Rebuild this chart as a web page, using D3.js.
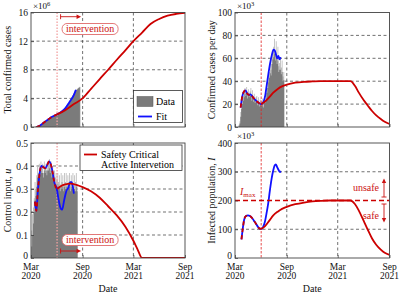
<!DOCTYPE html>
<html>
<head>
<meta charset="utf-8">
<script src="https://cdn.jsdelivr.net/npm/d3@7"></script>
<style>
body { margin: 0; background: #fff; }
svg { font-family: "Liberation Serif", "Times New Roman", serif; }
</style>
</head>
<body>
<div id="chart"></div>
<script>
var width = 399, height = 293;

var interventionDate = "2020-06-02";
var xTickDates = ["2020-03-01", "2020-09-01", "2021-03-01", "2021-09-01"];
var xGridDates = ["2020-09-01", "2021-03-01"];

// total confirmed cases (x10^6)
var cumData = [["2020-03-15",0],["2020-03-22",0.03],["2020-03-29",0.14],["2020-04-05",0.34],["2020-04-12",0.56],["2020-04-19",0.76],["2020-04-26",0.96],["2020-05-03",1.16],["2020-05-10",1.33],["2020-05-17",1.5],["2020-05-24",1.64],["2020-05-31",1.79],["2020-06-07",1.94],["2020-06-14",2.09],["2020-06-21",2.28],["2020-06-28",2.55],["2020-07-05",2.9],["2020-07-12",3.3],["2020-07-19",3.78],["2020-07-26",4.25],["2020-08-02",4.7],["2020-08-09",5.1],["2020-08-16",5.4],["2020-08-23",5.6]];
var cumFit = [["2020-03-20",0],["2020-04-01",0.18],["2020-04-15",0.6],["2020-05-01",1.05],["2020-05-15",1.42],["2020-06-01",1.75],["2020-06-15",2.08],["2020-07-01",2.6],["2020-07-15",3.4],["2020-08-01",4.5],["2020-08-08",5.2]];
var cumModel = [["2020-06-02",1.77],["2020-07-01",2.35],["2020-08-01",3.2],["2020-09-01",4.0],["2020-10-01",5.33],["2020-11-01",6.7],["2020-12-01",8.0],["2021-01-01",9.4],["2021-02-01",10.75],["2021-03-01",12.0],["2021-04-01",13.2],["2021-05-01",14.4],["2021-06-01",15.1],["2021-07-01",15.55],["2021-08-01",15.8],["2021-09-01",15.95]];

// confirmed cases per day (x10^3), one value every 3 days
var dailyStart = "2020-03-14";
var dailyHi = [2,5,13,20,24,27,30,34,31,35,28,33,29,31,34,26,32,25,29,24,26,27,22,26,20,24,23,21,25,19,27,23,30,34,39,46,48,56,50,63,66,70,77,65,75,60,70,53,56,60,52,58,44,48,45];
var dailyLo = [1,3,9,16,20,23,26,29,27,29,25,27,26,27,27,23,26,22,24,21,22,22,19,21,18,19,19,18,20,17,22,21,25,30,34,39,43,47,45,55,59,61,64,58,62,55,58,48,50,50,46,48,40,41,38];
var dailyFit = [["2020-03-21",17],["2020-03-27",27],["2020-04-02",31],["2020-04-07",32],["2020-04-13",29.5],["2020-04-19",28],["2020-04-25",28.5],["2020-05-01",27],["2020-05-07",25],["2020-05-13",23.5],["2020-05-19",22],["2020-05-25",21],["2020-06-01",20],["2020-06-06",20.5],["2020-06-11",22.5],["2020-06-16",27],["2020-06-22",37],["2020-06-28",47],["2020-07-04",56],["2020-07-10",63],["2020-07-16",67.5],["2020-07-20",67],["2020-07-25",63],["2020-07-29",60],["2020-08-02",62],["2020-08-06",59],["2020-08-10",61]];
var dailyModel = [["2020-06-02",20],["2020-06-15",22],["2020-07-01",26],["2020-07-15",30],["2020-08-01",33.5],["2020-08-15",35.5],["2020-09-01",37],["2020-10-01",38.7],["2020-11-01",39.5],["2020-12-01",39.8],["2021-01-01",40],["2021-04-15",40],["2021-05-01",36],["2021-05-15",30],["2021-06-01",23.5],["2021-06-15",19],["2021-07-01",14],["2021-07-15",10.4],["2021-08-01",7],["2021-08-15",4.6],["2021-09-01",2.6]];

// control input u, one value every 3 days
var controlStart = "2020-03-02";
var controlHi = [0.12,0.19,0.22,0.26,0.33,0.30,0.36,0.40,0.37,0.41,0.38,0.42,0.39,0.41,0.37,0.42,0.39,0.41,0.38,0.42,0.40,0.43,0.40,0.42,0.38,0.40,0.36,0.38,0.35,0.37,0.34,0.37,0.33,0.36,0.32,0.37,0.33,0.36,0.32,0.37,0.33,0.37,0.32,0.36,0.33,0.37,0.32,0.36,0.33,0.37,0.32,0.36,0.33,0.37,0.32,0.35];
var controlLo = [0.05,0.10,0.15,0.20,0.25,0.27,0.31,0.35,0.35,0.37,0.36,0.38,0.37,0.37,0.35,0.38,0.37,0.38,0.36,0.38,0.38,0.39,0.37,0.38,0.35,0.36,0.33,0.34,0.31,0.32,0.31,0.32,0.30,0.31,0.29,0.31,0.30,0.31,0.29,0.31,0.30,0.31,0.29,0.31,0.30,0.31,0.29,0.31,0.30,0.31,0.29,0.30,0.29,0.31,0.29,0.30];
var controlFit = [["2020-03-15",0.245],["2020-03-20",0.205],["2020-03-26",0.30],["2020-04-01",0.37],["2020-04-07",0.40],["2020-04-14",0.395],["2020-04-21",0.39],["2020-04-28",0.405],["2020-05-05",0.42],["2020-05-10",0.41],["2020-05-16",0.38],["2020-05-23",0.33],["2020-06-01",0.30],["2020-06-08",0.25],["2020-06-15",0.215],["2020-06-20",0.21],["2020-06-27",0.25],["2020-07-05",0.29],["2020-07-12",0.305],["2020-07-19",0.33],["2020-07-24",0.33],["2020-07-28",0.31],["2020-08-01",0.28]];
var controlModel = [["2020-06-02",0.30],["2020-06-15",0.312],["2020-07-01",0.32],["2020-07-20",0.323],["2020-08-10",0.318],["2020-09-01",0.308],["2020-10-01",0.29],["2020-11-01",0.262],["2020-12-01",0.225],["2021-01-01",0.185],["2021-02-01",0.135],["2021-03-01",0.075],["2021-03-15",0.04],["2021-04-01",0],["2021-09-01",0]];

// infected population I (x10^3)
var infFit = [["2020-03-24",65],["2020-03-29",105],["2020-04-03",135],["2020-04-09",146],["2020-04-16",148],["2020-04-23",146],["2020-04-30",140],["2020-05-07",130],["2020-05-14",120],["2020-05-21",109],["2020-05-28",102],["2020-06-03",101],["2020-06-09",108],["2020-06-15",125],["2020-06-21",155],["2020-06-27",190],["2020-07-03",235],["2020-07-09",275],["2020-07-15",305],["2020-07-20",322],["2020-07-24",326],["2020-07-28",318],["2020-08-02",308],["2020-08-07",300],["2020-08-12",300]];
var infModel = [["2020-06-02",101],["2020-06-15",110],["2020-07-01",130],["2020-07-15",148],["2020-08-01",162],["2020-08-15",171],["2020-09-01",178],["2020-10-01",187],["2020-11-01",193],["2020-12-01",197],["2021-01-01",199],["2021-02-01",200],["2021-04-15",200],["2021-05-01",188],["2021-05-15",165],["2021-06-01",130],["2021-06-15",100],["2021-07-01",68],["2021-07-15",47],["2021-08-01",29],["2021-08-15",18],["2021-09-01",11]];
var infMax = 200;

var RED = "#cc0000", BLUE = "#1010ff", DARK = "#7b7b7b", LIGHT = "#bcbcbc";
var parse = d3.timeParse("%Y-%m-%d");
var xStart = parse("2020-03-01"), xEnd = parse("2021-09-01");
var tInt = parse(interventionDate);

var svg = d3.select("#chart").append("svg")
  .attr("width", width)
  .attr("height", height);

function rows(arr) {
  return arr.map(function(d) { return {date: parse(d[0]), value: d[1]}; });
}
function stepRows(startStr, hi, lo) {
  var s = parse(startStr);
  return hi.map(function(v, i) {
    return {date: d3.timeDay.offset(s, i * 3), hi: v, lo: lo[i]};
  });
}

function makePanel(id, box, yMax, yTicks, yFmt) {
  var x = d3.scaleTime().domain([xStart, xEnd]).range([box.l, box.r]);
  var y = d3.scaleLinear().domain([0, yMax]).range([box.b, box.t]);
  svg.append("clipPath").attr("id", id)
    .append("rect")
    .attr("x", box.l).attr("y", box.t)
    .attr("width", box.r - box.l).attr("height", box.b - box.t);
  var g = svg.append("g");
  var grid = g.append("g");
  var plot = g.append("g").attr("clip-path", "url(#" + id + ")");
  var top = g.append("g");

  yTicks.filter(function(v) { return v > 0 && v < yMax; }).forEach(function(v) {
    grid.append("line")
      .attr("class", "hgrid").attr("data-v", v)
      .attr("x1", box.l).attr("x2", box.r)
      .attr("y1", y(v)).attr("y2", y(v))
      .attr("stroke", "#333").attr("stroke-width", 0.7)
      .attr("stroke-dasharray", "3,2.5");
  });
  xGridDates.forEach(function(d) {
    grid.append("line")
      .attr("x1", x(parse(d))).attr("x2", x(parse(d)))
      .attr("y1", box.t).attr("y2", box.b)
      .attr("stroke", "#333").attr("stroke-width", 0.7)
      .attr("stroke-dasharray", "3,2.5");
  });

  return {x: x, y: y, box: box, grid: grid, plot: plot, top: top, yTicks: yTicks, yFmt: yFmt};
}

function drawFrame(p, showX, yLabel, multiplier) {
  var box = p.box;
  var ay = p.top.append("g")
    .attr("transform", "translate(" + box.l + ",0)")
    .call(d3.axisLeft(p.y).tickValues(p.yTicks).tickSize(-3).tickPadding(3).tickFormat(p.yFmt));
  ay.select(".domain").remove();
  ay.attr("font-family", null).attr("font-size", 9.5);
  ay.selectAll("line").attr("stroke", "#333").attr("stroke-width", 0.7);
  ay.selectAll("text").attr("fill", "#111");
  if (showX) {
    // lift the bottom "0" a little so it clears the month label below it
    ay.selectAll(".tick text").filter(function(d) { return d === 0; }).attr("y", -2.5);
  }

  var ax = p.top.append("g")
    .attr("transform", "translate(0," + box.b + ")")
    .call(d3.axisBottom(p.x).tickValues(xTickDates.map(parse)).tickSize(-3).tickFormat(""));
  ax.select(".domain").remove();
  ax.selectAll("line").attr("stroke", "#333").attr("stroke-width", 0.7);

  p.top.append("rect")
    .attr("x", box.l).attr("y", box.t)
    .attr("width", box.r - box.l).attr("height", box.b - box.t)
    .attr("fill", "none").attr("stroke", "#444").attr("stroke-width", 0.9);

  if (showX) {
    xTickDates.forEach(function(d) {
      var t = parse(d);
      var tx = p.top.append("text")
        .attr("text-anchor", "middle").attr("font-size", 9.5).attr("fill", "#111");
      tx.append("tspan").attr("x", p.x(t)).attr("y", box.b + 11.5).text(d3.timeFormat("%b")(t));
      tx.append("tspan").attr("x", p.x(t)).attr("y", box.b + 21).text(d3.timeFormat("%Y")(t));
    });
    p.top.append("text")
      .attr("x", (box.l + box.r) / 2).attr("y", box.b + 33.5)
      .attr("text-anchor", "middle").attr("font-size", 10).attr("fill", "#111")
      .text("Date");
  }

  var yl = p.top.append("text")
    .attr("transform", "translate(" + (box.l - 20.5) + "," + ((box.t + box.b) / 2) + ") rotate(-90)")
    .attr("text-anchor", "middle").attr("font-size", 10).attr("fill", "#111");
  yLabel.forEach(function(part) {
    var ts = yl.append("tspan").text(part[0]);
    if (part[1]) ts.attr("font-style", "italic");
  });

  if (multiplier) {
    var m = p.top.append("text")
      .attr("x", box.l + 2).attr("y", box.t - 4)
      .attr("font-size", 9).attr("fill", "#111");
    m.append("tspan").text("\u00d710");
    m.append("tspan").attr("font-size", 6.5).attr("dy", -3).text(multiplier);
  }
}

function line(p) {
  return d3.line()
    .x(function(d) { return p.x(d.date); })
    .y(function(d) { return p.y(d.value); })
    .curve(d3.curveMonotoneX);
}

function drawFitModel(p, fitArr, modelArr) {
  var fit = rows(fitArr), model = rows(modelArr);
  var pre = fit.filter(function(d) { return d.date <= tInt; }).concat([model[0]]);
  p.plot.append("path").datum(fit)
    .attr("d", line(p)).attr("fill", "none")
    .attr("stroke", BLUE).attr("stroke-width", 1.8).attr("stroke-linejoin", "round");
  p.plot.append("path").datum(pre)
    .attr("d", line(p)).attr("fill", "none")
    .attr("stroke", RED).attr("stroke-width", 1.8).attr("stroke-dasharray", "4,3");
  p.plot.append("path").datum(model)
    .attr("d", line(p)).attr("fill", "none")
    .attr("stroke", RED).attr("stroke-width", 1.8).attr("stroke-linejoin", "round");
}

function drawBars(p, data) {
  var hiArea = d3.area().curve(d3.curveStepAfter)
    .x(function(d) { return p.x(d.date); })
    .y0(p.y(0)).y1(function(d) { return p.y(d.hi); });
  var loArea = d3.area().curve(d3.curveStepAfter)
    .x(function(d) { return p.x(d.date); })
    .y0(p.y(0)).y1(function(d) { return p.y(d.lo); });
  p.plot.append("path").datum(data).attr("d", hiArea).attr("fill", LIGHT);
  p.plot.append("path").datum(data).attr("d", loArea).attr("fill", DARK);
}

function interventionLine(p, pale) {
  var xi = p.x(tInt);
  p.plot.append("line")
    .attr("x1", xi).attr("x2", xi).attr("y1", p.box.t).attr("y2", p.box.b)
    .attr("stroke", pale ? "#f2a0a0" : "#e02020")
    .attr("stroke-width", pale ? 1.3 : 0.8)
    .attr("stroke-dasharray", pale ? "1.5,1.5" : "2.5,1.5");
}

function interventionTag(p, labelY, arrowY) {
  var xi = p.x(tInt);
  var g = p.top.append("g");
  g.append("rect")
    .attr("x", xi + 5).attr("y", labelY - 5.5)
    .attr("width", 56).attr("height", 11).attr("rx", 5)
    .attr("fill", "#fff").attr("stroke", "#e06a6a").attr("stroke-width", 0.9);
  g.append("text")
    .attr("x", xi + 33).attr("y", labelY + 3.2)
    .attr("text-anchor", "middle").attr("font-size", 10).attr("fill", "#cc1111")
    .text("intervention");
  var ax0 = xi + 3.5, ax1 = xi + 24;
  g.append("line").attr("x1", ax0).attr("x2", ax1 - 3).attr("y1", arrowY).attr("y2", arrowY)
    .attr("stroke", "#cc1111").attr("stroke-width", 0.9);
  g.append("line").attr("x1", ax0).attr("x2", ax0).attr("y1", arrowY - 2.5).attr("y2", arrowY + 2.5)
    .attr("stroke", "#cc1111").attr("stroke-width", 0.9);
  g.append("path")
    .attr("d", "M" + ax1 + "," + arrowY + "L" + (ax1 - 4.5) + "," + (arrowY - 2.2) + "L" + (ax1 - 4.5) + "," + (arrowY + 2.2) + "Z")
    .attr("fill", "#cc1111");
}

var boxTL = {l: 31, r: 185, t: 12.5, b: 127};
var boxTR = {l: 235, r: 389.5, t: 12.5, b: 127};
var boxBL = {l: 31, r: 185, t: 143, b: 258};
var boxBR = {l: 235, r: 389.5, t: 143, b: 258};

// ---- panel 1: total confirmed cases
var p1 = makePanel("c1", boxTL, 16, [0, 4, 8, 12, 16], d3.format("d"));
var cumRows = rows(cumData);
p1.plot.append("path").datum(cumRows)
  .attr("d", d3.area().x(function(d) { return p1.x(d.date); }).y0(p1.y(0)).y1(function(d) { return p1.y(d.value); }))
  .attr("fill", DARK).attr("stroke", "#999").attr("stroke-width", 0.5);
interventionLine(p1, true);
drawFitModel(p1, cumFit, cumModel);
drawFrame(p1, false, [["Total confirmed cases"]], "6");
interventionTag(p1, 29, 16.7);

var leg1 = p1.top.append("g");
leg1.append("rect").attr("x", 133.5).attr("y", 90.5).attr("width", 49).attr("height", 32)
  .attr("fill", "#fff").attr("stroke", "#333").attr("stroke-width", 0.8);
leg1.append("rect").attr("x", 137).attr("y", 96.5).attr("width", 16).attr("height", 10)
  .attr("fill", DARK).attr("stroke", "#555").attr("stroke-width", 0.5);
leg1.append("text").attr("x", 156).attr("y", 105).attr("font-size", 10).text("Data");
leg1.append("line").attr("x1", 138).attr("x2", 152).attr("y1", 116.5).attr("y2", 116.5)
  .attr("stroke", BLUE).attr("stroke-width", 1.8);
leg1.append("text").attr("x", 156).attr("y", 119.5).attr("font-size", 10).text("Fit");

// ---- panel 2: confirmed cases per day
var p2 = makePanel("c2", boxTR, 100, [0, 20, 40, 60, 80, 100], d3.format("d"));
drawBars(p2, stepRows(dailyStart, dailyHi, dailyLo));
interventionLine(p2, false);
drawFitModel(p2, dailyFit, dailyModel);
drawFrame(p2, false, [["Confirmed cases per day"]], "3");

// ---- panel 3: control input
var p3 = makePanel("c3", boxBL, 0.5, [0, 0.1, 0.2, 0.3, 0.4, 0.5], function(v) { return v === 0 ? "0" : d3.format(".1f")(v); });
drawBars(p3, stepRows(controlStart, controlHi, controlLo));
interventionLine(p3, true);
drawFitModel(p3, controlFit, controlModel);
drawFrame(p3, true, [["Control input, "], ["u", true]], null);
interventionTag(p3, 240, 251);

var leg3 = p3.top.append("g");
leg3.append("rect").attr("x", 80).attr("y", 145).attr("width", 102).attr("height", 25.5)
  .attr("fill", "#fff").attr("stroke", "#333").attr("stroke-width", 0.8);
leg3.append("line").attr("x1", 84).attr("x2", 97).attr("y1", 154.5).attr("y2", 154.5)
  .attr("stroke", RED).attr("stroke-width", 1.8);
leg3.append("text").attr("x", 101).attr("y", 157.5).attr("font-size", 10).text("Safety Critical");
leg3.append("text").attr("x", 101).attr("y", 168).attr("font-size", 10).text("Active Intervetion");

// ---- panel 4: infected population
var p4 = makePanel("c4", boxBR, 400, [0, 100, 200, 300, 400], d3.format("d"));
p4.grid.selectAll(".hgrid").filter(function() { return +this.getAttribute("data-v") === infMax; }).remove();
interventionLine(p4, false);
drawFitModel(p4, infFit, infModel);
p4.plot.append("line")
  .attr("x1", boxBR.l).attr("x2", boxBR.r).attr("y1", p4.y(infMax)).attr("y2", p4.y(infMax))
  .attr("stroke", RED).attr("stroke-width", 1.4).attr("stroke-dasharray", "5,3");
drawFrame(p4, true, [["Infected population, "], ["I", true]], "3");

var ann = p4.top.append("g").attr("fill", "#cc1111");
var imax = ann.append("text").attr("x", 240).attr("y", p4.y(infMax) - 6).attr("font-size", 10);
imax.append("tspan").attr("font-style", "italic").text("I");
imax.append("tspan").attr("font-size", 7).attr("dy", 2).text("max");
ann.append("text").attr("x", 379).attr("y", p4.y(infMax) - 9.5).attr("text-anchor", "end").attr("font-size", 10).text("unsafe");
ann.append("text").attr("x", 379).attr("y", p4.y(infMax) + 18).attr("text-anchor", "end").attr("font-size", 10).text("safe");
function vArrow(xa, y0, y1) {
  var dir = y1 < y0 ? 1 : -1;
  ann.append("line").attr("x1", xa).attr("x2", xa).attr("y1", y0).attr("y2", y1 + dir * 3)
    .attr("stroke", "#cc1111").attr("stroke-width", 0.9);
  ann.append("line").attr("x1", xa - 2.5).attr("x2", xa + 2.5).attr("y1", y0).attr("y2", y0)
    .attr("stroke", "#cc1111").attr("stroke-width", 0.9);
  ann.append("path")
    .attr("d", "M" + xa + "," + y1 + "L" + (xa - 2.2) + "," + (y1 + dir * 4.5) + "L" + (xa + 2.2) + "," + (y1 + dir * 4.5) + "Z");
}
vArrow(384, p4.y(infMax) - 3.5, p4.y(infMax) - 22);
vArrow(384, p4.y(infMax) + 3.5, p4.y(infMax) + 22);
</script>
</body>
</html>
